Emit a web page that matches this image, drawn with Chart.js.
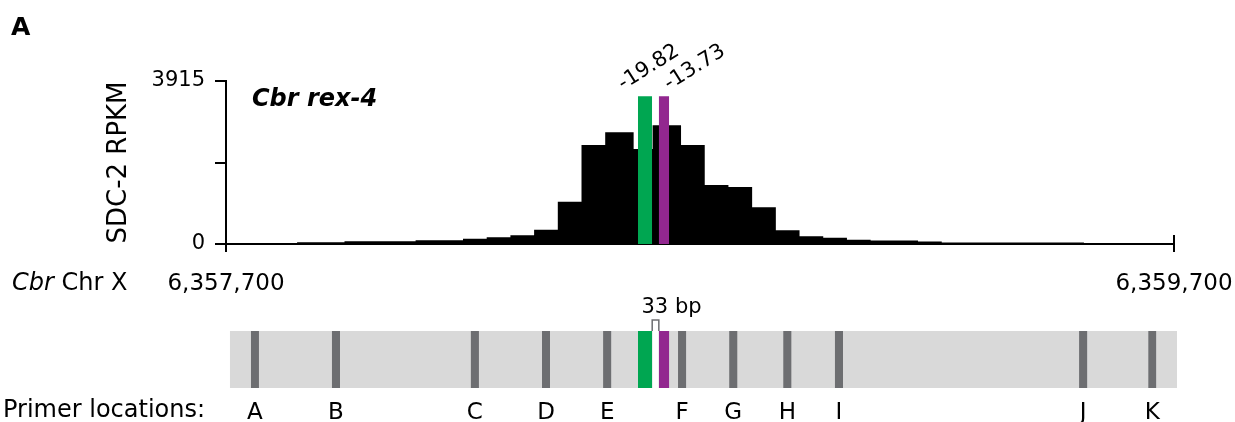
<!DOCTYPE html>
<html lang="en">
<head>
<meta charset="UTF-8">
<title>Cbr rex-4 SDC-2 binding</title>
<script src="https://cdn.jsdelivr.net/npm/chart.js@4.4.1/dist/chart.umd.min.js"></script>
<style>
  body { margin: 0; background: #fff; }
  .wrap { position: relative; width: 1235px; height: 422px; }
  #signal { position: absolute; left: 0; top: 0; }
  #primers { position: absolute; left: 0; top: 290px; }
</style>
</head>
<body>
<div class="wrap">
  <canvas id="signal" width="1235" height="310"></canvas>
  <canvas id="primers" width="1235" height="132"></canvas>
</div>
<script>
// Cbr chromosome X window
const regionStart = 6357700;
const regionEnd = 6359700;
const yMax = 3915;

// SDC-2 ChIP-seq signal: bin start coordinates and RPKM
const binStarts = [6357700, 6357850, 6357950, 6358100, 6358200, 6358250, 6358300, 6358350,
  6358400, 6358450, 6358500, 6358560, 6358600, 6358660, 6358710, 6358760, 6358810, 6358860,
  6358910, 6358960, 6359010, 6359060, 6359160, 6359210, 6359510];
const binRpkm = [20, 45, 65, 90, 125, 160, 210, 345,
  1015, 2375, 2685, 2280, 2850, 2375, 1420, 1370, 885, 330,
  185, 150, 105, 85, 60, 35, 20];
const signalEnd = 6359530;

// motif hits and their scores
const motifStarts = [6358569, 6358613];
const motifEnds = [6358599, 6358635];
const motifScores = ['-19.82', '-13.73'];
const motifLevel = 3550;
const spacerLabel = '33 bp';

// qPCR primer pairs
const primerLabels = ['A', 'B', 'C', 'D', 'E', 'F', 'G', 'H', 'I', 'J', 'K'];
const primerCenters = [6357761, 6357932, 6358225, 6358375, 6358504, 6358662, 6358770,
  6358884, 6358993, 6359508, 6359654];

// extent of the grey locus bar
const trackStart = 6357708;
const trackEnd = 6359706;

const motifColors = ['#00a651', '#92278f'];
const primerGray = '#6d6e71';
const trackGray = '#d9d9d9';
const primerHalf = 8.5;

Chart.defaults.font.family = '"DejaVu Sans", sans-serif';
Chart.defaults.color = '#000';

function box(x0, x1, y) {
  return [{ x: x0, y: y }, { x: x1, y: y }];
}

// value of each point holds until the next point
function filled(data, color) {
  return {
    data: data,
    backgroundColor: color,
    borderColor: 'rgba(0,0,0,0)',
    borderWidth: 0,
    pointRadius: 0,
    stepped: 'before',
    fill: 'origin'
  };
}

const signalPoints = binStarts.map((x, i) => ({ x: x, y: binRpkm[i] }));
signalPoints.push({ x: signalEnd, y: 0 });

const motifSets = motifStarts.map((s, i) => filled(box(s, motifEnds[i], motifLevel), motifColors[i]));

const scoreShift = [[-22, -6], [5, -6]];

const signalNotes = {
  id: 'signalNotes',
  afterDraw(chart) {
    const { ctx, chartArea, scales: { x, y } } = chart;
    ctx.save();
    ctx.strokeStyle = '#000';
    ctx.lineWidth = 2;
    const xe = x.getPixelForValue(regionEnd);
    ctx.beginPath();
    ctx.moveTo(xe, chartArea.bottom - 9);
    ctx.lineTo(xe, chartArea.bottom);
    ctx.stroke();

    ctx.fillStyle = '#000';
    ctx.textAlign = 'left';
    ctx.textBaseline = 'alphabetic';
    ctx.font = 'bold 25px "DejaVu Sans"';
    ctx.fillText('A', 11, 35);
    ctx.font = 'bold italic 24px "DejaVu Sans"';
    ctx.fillText('Cbr rex-4', 252, 106);
    ctx.font = 'italic 24px "DejaVu Sans"';
    ctx.fillText('Cbr', 12, 290);
    const w = ctx.measureText('Cbr ').width;
    ctx.font = '24px "DejaVu Sans"';
    ctx.fillText('Chr X', 12 + w, 290);

    ctx.font = '21px "DejaVu Sans"';
    motifScores.forEach((s, i) => {
      const cx = x.getPixelForValue((motifStarts[i] + motifEnds[i]) / 2);
      const top = y.getPixelForValue(motifLevel);
      ctx.save();
      ctx.translate(cx + scoreShift[i][0], top + scoreShift[i][1]);
      ctx.rotate(-Math.PI / 5.6);
      ctx.fillText(s, 0, 0);
      ctx.restore();
    });
    ctx.restore();
  }
};

new Chart(document.getElementById('signal'), {
  type: 'line',
  data: {
    datasets: motifSets.concat([filled(signalPoints, '#000')])
  },
  options: {
    responsive: false,
    animation: false,
    devicePixelRatio: 1,
    layout: { padding: { left: 0, right: 61, top: 81, bottom: 0 } },
    plugins: { legend: { display: false }, tooltip: { enabled: false } },
    scales: {
      x: {
        type: 'linear',
        min: regionStart,
        max: regionEnd,
        afterBuildTicks(scale) { scale.ticks = [{ value: regionStart }, { value: regionEnd }]; },
        afterFit(scale) { scale.height = 66; scale.paddingLeft = 0; scale.paddingRight = 0; },
        grid: { drawOnChartArea: false, drawTicks: true, tickLength: 8, color: '#000', lineWidth: 2 },
        border: { display: true, color: '#000', width: 2 },
        ticks: {
          padding: 18, autoSkip: false, maxRotation: 0, font: { size: 23 },
          callback: v => v.toLocaleString('en-US')
        }
      },
      y: {
        min: 0,
        max: yMax,
        afterBuildTicks(scale) { scale.ticks = [0, yMax / 2, yMax].map(v => ({ value: v })); },
        afterFit(scale) { scale.width = 226; },
        grid: { drawOnChartArea: false, drawTicks: true, tickLength: 11, color: '#000', lineWidth: 2 },
        border: { display: true, color: '#000', width: 2 },
        ticks: {
          padding: 10, autoSkip: false, font: { size: 21 },
          callback: v => (v === 0 || v === yMax) ? String(v) : ''
        },
        title: {
          display: true, text: 'SDC-2 RPKM', font: { size: 26 },
          padding: { top: 104, bottom: 0 }
        }
      }
    }
  },
  plugins: [signalNotes]
});

// primer map below the signal
const primerPoints = [];
primerCenters.forEach(c => {
  primerPoints.push({ x: c - primerHalf, y: 1 });
  primerPoints.push({ x: c + primerHalf, y: 0 });
});

const primerNotes = {
  id: 'primerNotes',
  afterDatasetsDraw(chart) {
    const { ctx, chartArea, scales: { x } } = chart;
    const x0 = x.getPixelForValue(motifEnds[0]);
    const x1 = x.getPixelForValue(motifStarts[1]);
    ctx.save();
    ctx.fillStyle = '#fff';
    ctx.strokeStyle = primerGray;
    ctx.lineWidth = 1.5;
    ctx.beginPath();
    ctx.moveTo(x0, chartArea.top);
    ctx.lineTo(x0, chartArea.top - 11);
    ctx.lineTo(x1, chartArea.top - 11);
    ctx.lineTo(x1, chartArea.top);
    ctx.fill();
    ctx.stroke();

    ctx.fillStyle = '#000';
    ctx.font = '21px "DejaVu Sans"';
    ctx.textAlign = 'center';
    ctx.textBaseline = 'alphabetic';
    ctx.fillText(spacerLabel, (x0 + x1) / 2 + 16, chartArea.top - 18);
    ctx.textAlign = 'left';
    ctx.font = '24px "DejaVu Sans"';
    ctx.fillText('Primer locations:', 3, 127);
    ctx.restore();
  }
};

new Chart(document.getElementById('primers'), {
  type: 'line',
  data: {
    datasets: [
      filled(primerPoints, primerGray),
      filled(box(motifStarts[0], motifEnds[0], 1), motifColors[0]),
      filled(box(motifStarts[1], motifEnds[1], 1), motifColors[1]),
      filled(box(motifEnds[0], motifStarts[1], 1), '#fff'),
      filled(box(trackStart, trackEnd, 1), trackGray)
    ]
  },
  options: {
    responsive: false,
    animation: false,
    devicePixelRatio: 1,
    layout: { padding: { left: 226, right: 58, top: 41, bottom: 0 } },
    plugins: { legend: { display: false }, tooltip: { enabled: false } },
    scales: {
      x: {
        type: 'linear',
        min: regionStart,
        max: trackEnd,
        afterBuildTicks(scale) { scale.ticks = primerCenters.map(v => ({ value: v })); },
        afterFit(scale) { scale.height = 34; scale.paddingLeft = 0; scale.paddingRight = 0; },
        grid: { display: false, drawTicks: false },
        border: { display: false },
        ticks: {
          padding: 11, autoSkip: false, maxRotation: 0, font: { size: 23 },
          callback: (v, i) => primerLabels[i]
        }
      },
      y: { display: false, min: 0, max: 1 }
    }
  },
  plugins: [primerNotes]
});
</script>
</body>
</html>
